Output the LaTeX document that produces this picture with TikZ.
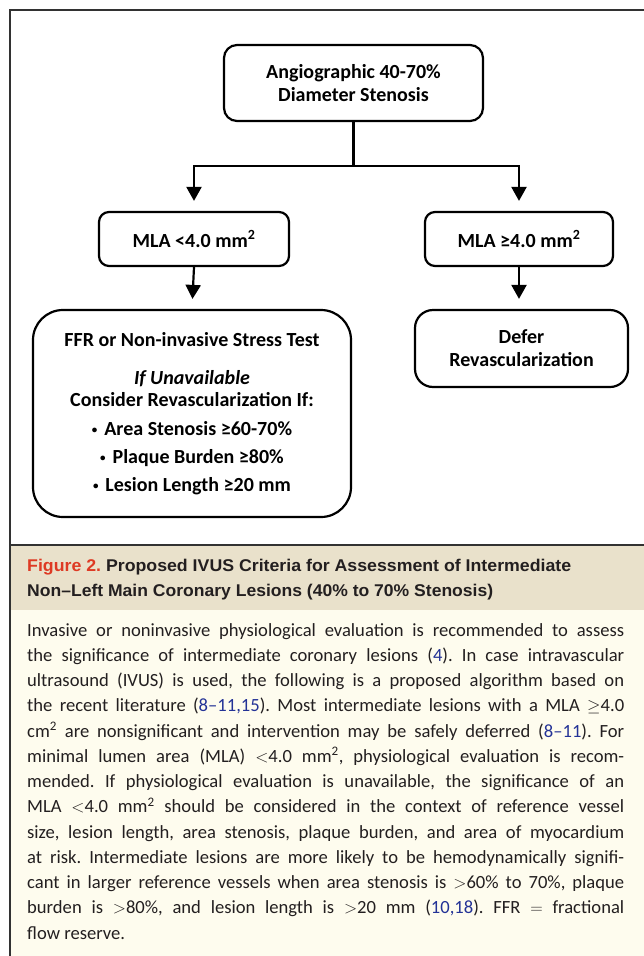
\documentclass[tikz,border=0pt]{standalone}
\usepackage{fontspec}
\usepackage{graphicx}
\setmainfont{Carlito}
\newfontfamily\capfont{Liberation Sans}
\usetikzlibrary{arrows.meta}
\definecolor{framec}{RGB}{50,50,50}
\definecolor{capbg}{RGB}{233,225,203}
\definecolor{bodybg}{RGB}{254,252,238}
\definecolor{figred}{RGB}{222,58,36}
\definecolor{linkblue}{RGB}{35,50,150}
\definecolor{txt}{RGB}{35,31,32}
\newcommand{\lk}[1]{\textcolor{linkblue}{#1}}
\newcommand{\jl}[1]{\makebox[597pt][s]{#1}}
\newcommand{\smbul}{\raisebox{0.1em}{\scalebox{0.55}{•}}\hspace{0.12em}}
\frenchspacing
\begin{document}
\begin{tikzpicture}[x=1pt,y=-1pt,
  boxstyle/.style={draw=black, line width=2.2pt, inner sep=0pt, align=center,
     font=\bfseries\fontsize{20}{23}\selectfont},
  conn/.style={line width=2.2pt, draw=black},
  arr/.style={conn, -{Triangle[width=15pt,length=14pt]}},
  bodyline/.style={anchor=base west, inner sep=0pt, text=txt, font=\fontsize{18.6}{22}\selectfont},
  capline/.style={anchor=base west, inner sep=0pt, text=txt}
]
\useasboundingbox (0,0) rectangle (644,956);
\fill[white] (0,0) rectangle (644,956);
% backgrounds
\fill[capbg] (10,545) rectangle (644,610);
\fill[bodybg] (10,610) rectangle (644,956);
% frame
\draw[framec, line width=1.4pt] (10,956) -- (10,10) -- (644,10);
\draw[framec, line width=1.4pt] (10,545) -- (644,545);

% boxes
\node[boxstyle, rounded corners=13pt, minimum width=259pt, minimum height=76pt] (top) at (353.5,83)
  {Angiographic 40-70\%\\ Diameter Stenosis};
\node[boxstyle, rounded corners=10pt, minimum width=190pt, minimum height=54pt] (mlaL) at (194,239)
  {MLA <4.0 mm\textsuperscript{2}};
\node[boxstyle, rounded corners=10pt, minimum width=188pt, minimum height=54pt] (mlaR) at (519,239)
  {MLA ≥4.0 mm\textsuperscript{2}};
\node[boxstyle, rounded corners=30pt, minimum width=318pt, minimum height=207pt] (ffr) at (192,413.5)
  {FFR or Non-invasive Stress Test\\[15pt]
   \textit{If Unavailable}\\[-1pt]
   Consider Revascularization If:\\[6pt]
   \smbul{} Area Stenosis ≥60-70\%\\[5pt]
   \smbul{} Plaque Burden ≥80\%\\[5pt]
   \smbul{} Lesion Length ≥20 mm};
\node[boxstyle, rounded corners=18pt, minimum width=213pt, minimum height=77pt] (defer) at (521.5,348.5)
  {Defer\\ Revascularization};

% connectors
\coordinate (split) at (353.5,166);
\draw[conn] (top.south) -- (split);
\draw[arr, shorten >=10pt] (split) -| (mlaL.north);
\draw[arr, shorten >=10pt] (split) -| (mlaR.north);
\draw[arr, shorten >=10pt] (mlaL.south) -- (ffr.north);
\draw[arr, shorten >=10pt] (mlaR.south) -- (mlaR.south |- defer.north);

% caption
\node[capline] (cap1) at (27,571) {\resizebox{544pt}{\height}{\capfont\bfseries\fontsize{17}{20}\selectfont\textcolor{figred}{Figure 2.} Proposed IVUS Criteria for Assessment of Intermediate}};
\node[capline] (cap2) at (27,596) {\resizebox{466pt}{\height}{\capfont\bfseries\fontsize{17}{20}\selectfont Non–Left Main Coronary Lesions (40\% to 70\% Stenosis)}};

% body text
\node[bodyline] (b1) at (27,636) {\jl{Invasive or noninvasive physiological evaluation is recommended to assess}};
\node[bodyline] (b2) at (27,661.25) {\jl{the significance of intermediate coronary lesions (\lk{4}). In case intravascular}};
\node[bodyline] (b3) at (27,686.5) {\jl{ultrasound (IVUS) is used, the following is a proposed algorithm based on}};
\node[bodyline] (b4) at (27,711.75) {\jl{the recent literature (\lk{8–11,15}). Most intermediate lesions with a MLA $\geq$4.0}};
\node[bodyline] (b5) at (27,737) {\jl{cm\textsuperscript{2} are nonsignificant and intervention may be safely deferred (\lk{8–11}). For}};
\node[bodyline] (b6) at (27,762.25) {\jl{minimal lumen area (MLA) $<$4.0 mm\textsuperscript{2}, physiological evaluation is recom-}};
\node[bodyline] (b7) at (27,787.5) {\jl{mended. If physiological evaluation is unavailable, the significance of an}};
\node[bodyline] (b8) at (27,812.75) {\jl{MLA $<$4.0 mm\textsuperscript{2} should be considered in the context of reference vessel}};
\node[bodyline] (b9) at (27,838) {\jl{size, lesion length, area stenosis, plaque burden, and area of myocardium}};
\node[bodyline] (b10) at (27,863.25) {\jl{at risk. Intermediate lesions are more likely to be hemodynamically signifi-}};
\node[bodyline] (b11) at (27,888.5) {\jl{cant in larger reference vessels when area stenosis is $>$60\% to 70\%, plaque}};
\node[bodyline] (b12) at (27,913.75) {\jl{burden is $>$80\%, and lesion length is $>$20 mm (\lk{10,18}). FFR $=$ fractional}};
\node[bodyline] (b13) at (27,939) {flow reserve.};
\end{tikzpicture}
\end{document}
